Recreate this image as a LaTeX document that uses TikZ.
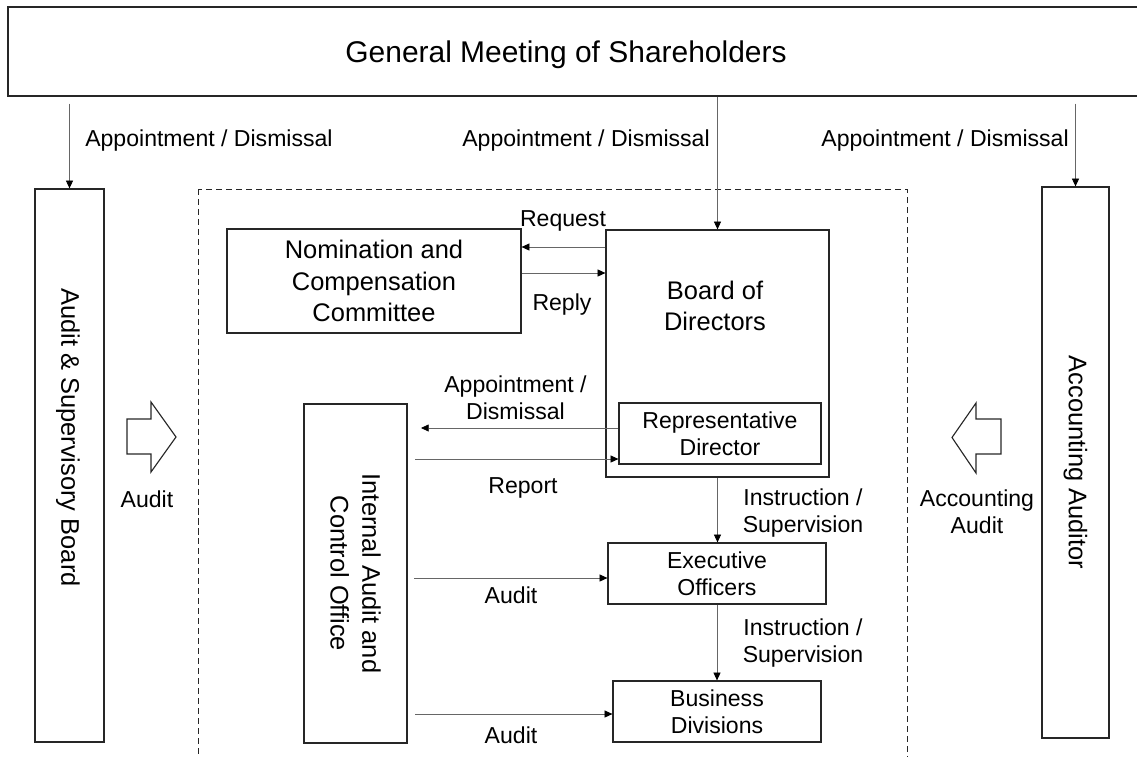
\documentclass[tikz,border=0pt]{standalone}
\usepackage{fontspec}
\setmainfont{Liberation Sans}
\usetikzlibrary{arrows.meta}

\newcommand{\pu}{0.025cm}
\newcommand{\lblfont}{\fontsize{16.4}{19.2}\selectfont}
\newcommand{\boxfont}{\fontsize{18.1}{22.6}\selectfont}
\newcommand{\titlefont}{\fontsize{21.3}{25}\selectfont}

\tikzset{
  box/.style={draw=black!85, line width=0.9pt, align=center, inner sep=0pt, font=\boxfont},
  smallbox/.style={box, font=\lblfont},
  lbl/.style={align=center, inner sep=0pt, font=\lblfont},
  arr/.style={draw=black!60, line width=0.5pt, -{Triangle[length=5.5pt,width=5pt,color=black]}},
  fatarrow/.style={draw=black!85, line width=0.8pt}
}

\begin{document}
\begin{tikzpicture}[x=\pu, y=-\pu]

    \useasboundingbox (0,0) rectangle (1137,756);

    % shareholders box, runs off the right edge
    \node[box, minimum width=1142*\pu, minimum height=89*\pu] (gms) at (579,51.5) {};
    \node[lbl, font=\titlefont, anchor=base] (gmstxt) at (566,62) {General Meeting of Shareholders};

    % company boundary
    \draw[black!85, line width=0.7pt, dash pattern=on 4.3pt off 2.8pt] (198,189) rectangle (907,800);

    % side boxes
    \node[box, minimum width=69*\pu, minimum height=553*\pu] (asb) at (69.5,465.5) {};
    \node[lbl, font=\boxfont, rotate=-90] (asbtxt) at (68,437.5) {Audit \& Supervisory Board};
    \node[box, rotate=-90, minimum width=551*\pu, minimum height=67*\pu] (aa) at (1075.5,462.5) {Accounting Auditor};

    % boxes inside the company
    \node[box, minimum width=294*\pu, minimum height=104*\pu] (ncc) at (374,281) {Nomination and\\Compensation\\Committee};
    \node[box, minimum width=223*\pu, minimum height=247*\pu] (bod) at (717.5,353.5) {};
    \node[lbl, font=\boxfont] (bodtxt) at (715,306) {Board of\\Directors};
    \node[smallbox, minimum width=202*\pu, minimum height=61*\pu] (rep) at (720,433.5) {Representative\\Director};
    \node[box, rotate=-90, minimum width=339*\pu, minimum height=103*\pu] (iac) at (355.5,573.5) {Internal Audit and\\Control Office};
    \node[smallbox, minimum width=218*\pu, minimum height=61*\pu] (exe) at (717,573.5) {Executive\\Officers};
    \node[smallbox, minimum width=208*\pu, minimum height=61*\pu] (bus) at (717,711.5) {Business\\Divisions};

    % appointment / dismissal by the meeting
    \draw[arr, shorten <=5pt] (gms.south -| asb.north) -- (asb.north);
    \draw[arr, shorten <=5pt] (gms.south -| aa.west) -- (aa.west);
    \draw[arr] (gms.south -| bod.north) -- (bod.north);
    \node[lbl, anchor=base west] (apl) at (85,146) {Appointment / Dismissal};
    \node[lbl, anchor=base east] (apm) at (710,146) {Appointment / Dismissal};
    \node[lbl, anchor=base east] (apr) at (1069,146) {Appointment / Dismissal};

    % request and reply
    \coordinate (rq) at (560,247);
    \coordinate (rp) at (560,273);
    \draw[arr] (rq -| bod.west) -- (rq -| ncc.east);
    \draw[arr] (rp -| ncc.east) -- (rp -| bod.west);
    \node[lbl, anchor=base] (rqtxt) at (563,226) {Request};
    \node[lbl, anchor=base] (rptxt) at (562,310) {Reply};

    % representative director and internal audit
    \coordinate (ad) at (421,428);
    \coordinate (rt) at (415,459);
    \draw[arr] (ad -| rep.west) -- (ad);
    \draw[arr] (rt) -- (rt -| rep.west);
    \node[lbl] (adtxt) at (515.5,398) {Appointment /\\Dismissal};
    \node[lbl, anchor=base] (rttxt) at (523,493) {Report};

    % internal audits
    \coordinate (au1) at (414,578);
    \coordinate (au2) at (415,714);
    \draw[arr] (au1) -- (au1 -| exe.west);
    \draw[arr] (au2) -- (au2 -| bus.west);
    \node[lbl, anchor=base] (au1txt) at (511,603) {Audit};
    \node[lbl, anchor=base] (au2txt) at (511,743) {Audit};

    % instruction / supervision
    \draw[arr] (bod.south) -- (bod.south |- exe.north);
    \draw[arr] (exe.south) -- (exe.south |- bus.north);
    \node[lbl] (is1) at (803,513.5) {Instruction /\\Supervision};
    \node[lbl] (is2) at (803,643) {Instruction /\\Supervision};

    % block arrows for the outside audits
    \draw[fatarrow] (127,419) -- (151,419) -- (151,402) -- (176,437) -- (151,472) -- (151,454) -- (127,454) -- cycle;
    \draw[fatarrow] (1001,419) -- (976,419) -- (976,403) -- (952,437.5) -- (976,473) -- (976,454) -- (1001,454) -- cycle;
    \node[lbl, anchor=base] (audtxt) at (147,507) {Audit};
    \node[lbl] (acctxt) at (977,512) {Accounting\\Audit};

\end{tikzpicture}
\end{document}
